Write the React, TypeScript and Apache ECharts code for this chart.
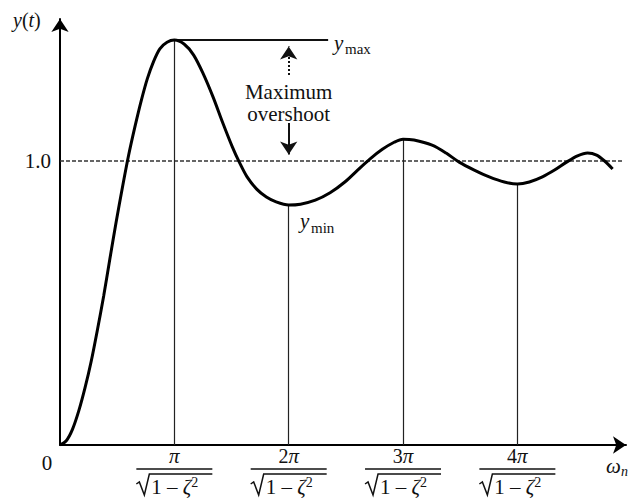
import React, { useEffect, useRef } from 'react';
import * as echarts from 'echarts';

// Step response y(t) of an underdamped second-order system.
// x is measured in units of π/√(1−ζ²) along the ωₙt axis.
const stepX = [
  0, 0.055, 0.109, 0.164, 0.218, 0.273, 0.327, 0.382, 0.436, 0.491,
  0.545, 0.6, 0.655, 0.709, 0.764, 0.818, 0.873, 0.936, 1.0,
  1.085, 1.169, 1.254, 1.339, 1.424, 1.508, 1.568, 1.636, 1.72, 1.805, 1.89, 2.0,
  2.103, 2.233, 2.362, 2.491, 2.603, 2.707, 2.819, 2.922, 3.0,
  3.096, 3.254, 3.377, 3.491, 3.623, 3.754, 3.886, 4.0,
  4.105, 4.219, 4.325, 4.43, 4.526, 4.614, 4.693, 4.763, 4.833,
];
const stepY = [
  0, 0.015, 0.055, 0.12, 0.2, 0.295, 0.405, 0.525, 0.655, 0.785,
  0.905, 1.02, 1.12, 1.21, 1.29, 1.35, 1.395, 1.418, 1.426,
  1.412, 1.373, 1.306, 1.225, 1.134, 1.049, 0.996, 0.944, 0.901, 0.873, 0.856, 0.845,
  0.848, 0.862, 0.888, 0.926, 0.968, 1.006, 1.041, 1.066, 1.077,
  1.074, 1.056, 1.028, 0.996, 0.968, 0.944, 0.926, 0.919,
  0.926, 0.944, 0.968, 0.996, 1.018, 1.028, 1.021, 1.0, 0.972,
];

// Successive extrema: y_max, y_min, second peak, second trough
const extremaX = [1, 2, 3, 4];
const extremaY = [1.426, 0.845, 1.077, 0.919];

// Tick numerators: [coefficient, symbol]
const tickNumerators: [string, string][] = [['', 'π'], ['2', 'π'], ['3', 'π'], ['4', 'π']];

const steadyState = 1.0;
const xMax = 4.95;
const yMax = 1.5;
const steadyLineEnd = 4.92;
const yMaxLineEnd = 2.345;
const overshootArrowX = 2;
const overshootUpperShaft = 1.303;
const overshootLowerShaft = 1.134;

const SERIF = "'Liberation Serif', 'Times New Roman', serif";
const INK = '#111';

export default function App() {
  const ref = useRef<HTMLDivElement>(null);

  useEffect(() => {
    if (!ref.current) return;
    const chart = echarts.init(ref.current, undefined, { renderer: 'svg' });

    const headLen = 13;
    const headPx = headLen / 2;

    chart.setOption({
      animation: false,
      backgroundColor: '#fff',
      textStyle: { fontFamily: SERIF },
      grid: { left: 60, right: 6, top: 19, bottom: 58, outerBoundsMode: 'none' },
      xAxis: {
        type: 'value',
        min: 0,
        max: xMax,
        axisLine: {
          show: true,
          symbol: ['none', 'arrow'],
          symbolSize: [13, headLen],
          lineStyle: { color: '#000', width: 2 },
        },
        axisTick: { show: false },
        axisLabel: { show: false },
        splitLine: { show: false },
      },
      yAxis: {
        type: 'value',
        min: 0,
        max: yMax,
        interval: 0.5,
        axisLine: {
          show: true,
          symbol: ['none', 'arrow'],
          symbolSize: [13, headLen],
          lineStyle: { color: '#000', width: 2 },
        },
        axisTick: { show: false },
        splitLine: { show: false },
        axisLabel: {
          margin: 9,
          fontFamily: SERIF,
          fontSize: 21,
          color: INK,
          formatter: (v: number) => (Math.abs(v - steadyState) < 1e-9 ? '1.0' : ''),
        },
      },
      series: [
        {
          type: 'line',
          data: stepX.map((x, i) => [x, stepY[i]]),
          smooth: 0.3,
          showSymbol: false,
          lineStyle: { color: '#000', width: 3 },
          z: 5,
        },
      ],
    });

    const toPx = (p: [number, number]) => chart.convertToPixel({ gridIndex: 0 }, p) as number[];
    const pxToY = (py: number) => (chart.convertFromPixel({ gridIndex: 0 }, [0, py]) as number[])[1];

    // markLine arrow heads are centred on the end point; pull the ends back so the tips land on target
    const yTop = extremaY[0];
    const upperTipPx = toPx([overshootArrowX, yTop])[1] + headPx;
    const lowerTipPx = toPx([overshootArrowX, steadyState])[1] - headPx;

    chart.setOption({
      series: [
        {
          markLine: {
            silent: true,
            symbol: 'none',
            label: { show: false },
            data: [
              [
                { coord: [0, steadyState], lineStyle: { color: '#333', width: 1.5, type: [4, 2] } },
                { coord: [steadyLineEnd, steadyState] },
              ],
              ...extremaX.map((x, i) => [
                { coord: [x, 0], lineStyle: { color: '#222', width: 1.2, type: 'solid' } },
                { coord: [x, extremaY[i]] },
              ]),
              [
                { coord: [extremaX[0], yTop], lineStyle: { color: '#111', width: 2, type: 'solid' } },
                { coord: [yMaxLineEnd, yTop] },
              ],
              [
                {
                  coord: [overshootArrowX, overshootUpperShaft],
                  symbol: 'none',
                  lineStyle: { color: '#111', width: 2, type: [2, 2] },
                },
                { coord: [overshootArrowX, pxToY(upperTipPx)], symbol: 'arrow', symbolSize: [13, headLen] },
              ],
              [
                {
                  coord: [overshootArrowX, overshootLowerShaft],
                  symbol: 'none',
                  lineStyle: { color: '#111', width: 2, type: 'solid' },
                },
                { coord: [overshootArrowX, pxToY(lowerTipPx)], symbol: 'arrow', symbolSize: [13, headLen] },
              ],
            ],
          },
        },
      ],
    });

    const text = (x: number, y: number, t: string, extra: any = {}) => ({
      type: 'text',
      x,
      y,
      silent: true,
      style: {
        text: t,
        fontFamily: SERIF,
        fontSize: 20,
        fill: INK,
        align: 'left',
        verticalAlign: 'middle',
        ...extra,
      },
    });

    const graphics: any[] = [];

    // Axis titles and origin
    graphics.push(
      text(13, 20, '{i|y}({i|t})', {
        rich: {
          i: { fontFamily: SERIF, fontSize: 20, fontStyle: 'italic', fill: INK },
        },
      }),
    );
    graphics.push(text(47, 463, '0', { align: 'center', fontSize: 21 }));
    graphics.push(text(606, 466, 'ω', { fontStyle: 'italic', fontSize: 21 }));
    graphics.push(text(621, 471, 'n', { fontStyle: 'italic', fontSize: 14 }));

    // Fractional tick labels kπ/√(1−ζ²)
    extremaX.forEach((x, i) => {
      const cx = toPx([x, 0])[0];
      const [coef, sym] = tickNumerators[i];
      graphics.push(
        text(cx, 456, `{n|${coef}}{p|${sym}}`, {
          align: 'center',
          rich: {
            n: { fontFamily: SERIF, fontSize: 20, fill: INK },
            p: { fontFamily: SERIF, fontSize: 21, fontStyle: 'italic', fill: INK },
          },
        }),
      );
      graphics.push({
        type: 'line',
        silent: true,
        shape: { x1: cx - 38, y1: 469, x2: cx + 38, y2: 469 },
        style: { stroke: INK, lineWidth: 1.6 },
      });
      graphics.push({
        type: 'polyline',
        silent: true,
        shape: {
          points: [
            [cx - 38, 484],
            [cx - 35, 482],
            [cx - 30, 495],
            [cx - 25, 474],
            [cx + 38, 474],
          ],
        },
        style: { stroke: INK, lineWidth: 1.5, fill: 'none' },
      });
      graphics.push(
        text(cx - 23, 487, '{r|1 – }{z|ζ}{s|2}', {
          rich: {
            r: { fontFamily: SERIF, fontSize: 21, fill: INK, lineHeight: 24 },
            z: { fontFamily: SERIF, fontSize: 21, fontStyle: 'italic', fill: INK, lineHeight: 24 },
            s: { fontFamily: SERIF, fontSize: 14, fill: INK, lineHeight: 14, verticalAlign: 'top' },
          },
        }),
      );
    });

    // Peak / trough annotations
    graphics.push(text(334, 43, 'y', { fontStyle: 'italic', fontSize: 21 }));
    graphics.push(text(345, 49, 'max', { fontSize: 15 }));
    graphics.push(text(300, 221, 'y', { fontStyle: 'italic', fontSize: 21 }));
    graphics.push(text(311, 228, 'min', { fontSize: 15 }));
    const arrowCx = toPx([overshootArrowX, 0])[0];
    graphics.push(text(arrowCx, 92, 'Maximum', { align: 'center', fontSize: 21 }));
    graphics.push(text(arrowCx, 114, 'overshoot', { align: 'center', fontSize: 21 }));

    chart.setOption({ graphic: graphics });

    return () => chart.dispose();
  }, []);

  return (
    <div
      ref={ref}
      style={{ position: 'fixed', left: 0, top: 0, width: 632, height: 503, background: '#fff' }}
    />
  );
}
